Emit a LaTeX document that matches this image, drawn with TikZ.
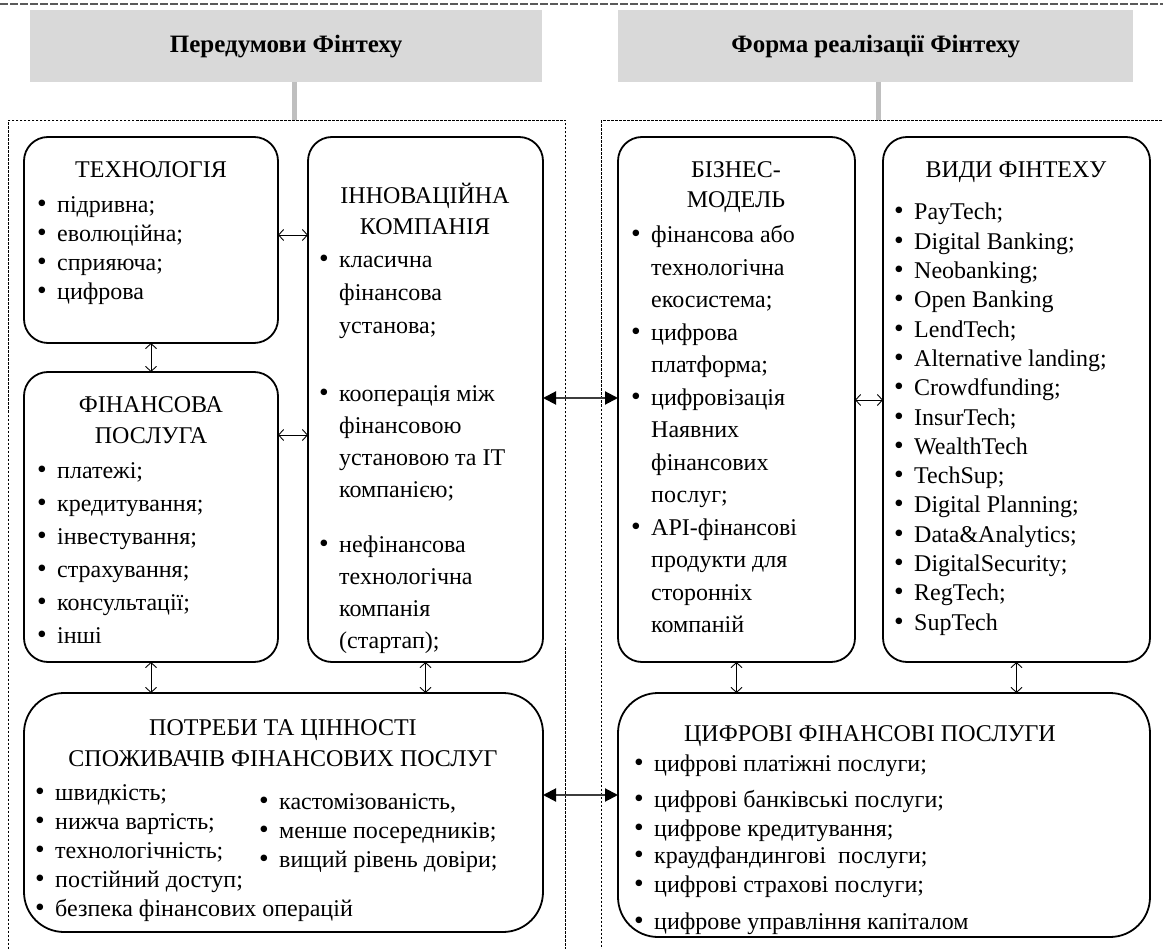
\documentclass[tikz,border=0pt]{standalone}
\usepackage{fontspec}
\setmainfont{Liberation Serif}
\usetikzlibrary{arrows.meta,calc}
\definecolor{hdrgray}{RGB}{217,217,217}
\definecolor{conngray}{RGB}{191,191,191}
\definecolor{topline}{RGB}{90,90,90}
\definecolor{arrgray}{RGB}{60,60,60}
\newcommand\bu{\makebox[21pt][l]{\kern1pt\scalebox{1.15}{•}}}
\newcommand\ind{\hspace*{21pt}}
\newcommand\rows[1]{\begin{tabular}[t]{@{}l@{}}#1\end{tabular}}
\begin{document}
\begin{tikzpicture}[x=1pt,y=-1pt,
  box/.style={draw, line width=1.8pt, rounded corners=24pt, inner sep=0pt, outer sep=0pt, anchor=north west},
  bigbox/.style={box, rounded corners=40pt},
  hdr/.style={fill=hdrgray, inner sep=0pt, anchor=north west, font=\fontsize{25}{30}\selectfont\bfseries},
  frm/.style={draw, line width=1pt, dash pattern=on 2.5pt off 1.5pt, inner sep=0pt, anchor=north west},
  ttl/.style={anchor=base, inner sep=0pt, font=\fontsize{24}{30}\selectfont},
  lst/.style={anchor=base west, inner sep=0pt, font=\fontsize{24}{#1}\selectfont},
  lst/.default=33,
  dbl/.style={line width=0.9pt, {Straight Barb[length=5pt,width=11pt]}-{Straight Barb[length=5pt,width=11pt]}},
  bigarr/.style={arrgray, line width=2pt, {Triangle[length=13pt,width=13pt,fill=black,color=black]}-{Triangle[length=13pt,width=13pt,fill=black,color=black]}}
]
\useasboundingbox (0,0) rectangle (1163,949);
\clip (0,0) rectangle (1163,949);

% top line
\coordinate (tl1) at (0,4);
\coordinate (tl2) at (1163,4);
\draw[topline, line width=1.5pt, dash pattern=on 8pt off 2pt] (tl1) -- (tl2);

% headers
\node[hdr, minimum width=512, minimum height=72] (h1) at (30,10) {Передумови Фінтеху};
\node[hdr, minimum width=515, minimum height=72] (h2) at (618,10) {Форма реалізації Фінтеху};

% frames
\node[frm, minimum width=557, minimum height=860] (f1) at (8,120) {};
\node[frm, minimum width=600, minimum height=860] (f2) at (601,120) {};

\draw[conngray, line width=5pt] ([xshift=8pt]h1.south) -- ([xshift=8pt]h1.south |- f1.north);
\draw[conngray, line width=5pt] ([xshift=3pt]h2.south) -- ([xshift=3pt]h2.south |- f2.north);

% boxes
\node[box, minimum width=254, minimum height=206] (tech) at (24,137) {};
\node[box, minimum width=254, minimum height=290] (fin) at (24,372) {};
\node[box, minimum width=235, minimum height=525] (innov) at (308,137) {};
\node[bigbox, minimum width=519, minimum height=239] (pot) at (24,693) {};
\node[box, minimum width=237, minimum height=525] (bus) at (618,137) {};
\node[box, minimum width=267, minimum height=525] (vyd) at (883,137) {};
\node[bigbox, minimum width=532, minimum height=244] (cyf) at (618,693) {};

% arrows
\draw[dbl] (tech.south) -- (fin.north);
\draw[dbl] (fin.south) -- (fin.south |- pot.north);
\draw[dbl] (innov.south) -- (innov.south |- pot.north);
\draw[dbl] (bus.south) -- (bus.south |- cyf.north);
\draw[dbl] (vyd.south) -- (vyd.south |- cyf.north);
\coordinate (y1) at (0,235);
\coordinate (y2) at (0,435);
\coordinate (y3) at (0,400);
\coordinate (y4) at (0,398);
\coordinate (y5) at (0,795);
\draw[dbl] (tech.east |- y1) -- (innov.west |- y1);
\draw[dbl] (fin.east |- y2) -- (innov.west |- y2);
\draw[dbl] (bus.east |- y3) -- (vyd.west |- y3);
\draw[bigarr] (innov.east |- y4) -- (bus.west |- y4);
\draw[bigarr] (pot.east |- y5) -- (cyf.west |- y5);

% TECH
\node[ttl] (t1) at (151,178) {ТЕХНОЛОГІЯ};
\node[lst=29] (l1) at (36,213) {\rows{\bu підривна;\\ \bu еволюційна;\\ \bu сприяюча;\\ \bu цифрова}};

% FIN
\node[ttl] (t2a) at (151,413) {ФІНАНСОВА};
\node[ttl] (t2b) at (151,444) {ПОСЛУГА};
\node[lst=33] (l2) at (36,479) {\rows{\bu платежі;\\ \bu кредитування;\\ \bu інвестування;\\ \bu страхування;\\ \bu консультації;\\ \bu інші}};

% INNOV
\node[ttl] (t3a) at (425,204) {ІННОВАЦІЙНА};
\node[ttl] (t3b) at (425,235) {КОМПАНІЯ};
\node[lst=33] (l3a) at (318,268) {\rows{\bu класична\\ \ind фінансова\\ \ind установа;}};
\node[lst=32] (l3b) at (318,402) {\rows{\bu кооперація між\\ \ind фінансовою\\ \ind установою та IT\\ \ind компанією;}};
\node[lst=32] (l3c) at (318,553) {\rows{\bu нефінансова\\ \ind технологічна\\ \ind компанія\\ \ind (стартап);}};

% POTREBI
\node[ttl] (t4a) at (283,735) {ПОТРЕБИ ТА ЦІННОСТІ};
\node[ttl] (t4b) at (283,766) {СПОЖИВАЧІВ ФІНАНСОВИХ ПОСЛУГ};
\node[lst=29] (l4a) at (34,800) {\rows{\bu швидкість;\\ \bu нижча вартість;\\ \bu технологічність;\\ \bu постійний доступ;\\ \bu безпека фінансових операцій}};
\node[lst=29] (l4b) at (258,809) {\rows{\bu кастомізованість,\\ \bu менше посередників;\\ \bu вищий рівень довіри;}};

% BUSINESS
\node[ttl] (t5a) at (736,178) {БІЗНЕС-};
\node[ttl] (t5b) at (736,208) {МОДЕЛЬ};
\node[lst=32.5] (l5) at (630,243) {\rows{\bu фінансова або\\ \ind технологічна\\ \ind екосистема;\\ \bu цифрова\\ \ind платформа;\\ \bu цифровізація\\ \ind Наявних\\ \ind фінансових\\ \ind послуг;\\ \bu API-фінансові\\ \ind продукти для\\ \ind сторонніх\\ \ind компаній}};

% VYDY
\node[ttl] (t6) at (1016,178) {ВИДИ ФІНТЕХУ};
\node[lst=29.3] (l6) at (893,220) {\rows{\bu PayTech;\\ \bu Digital Banking;\\ \bu Neobanking;\\ \bu Open Banking\\ \bu LendTech;\\ \bu Alternative landing;\\ \bu Crowdfunding;\\ \bu InsurTech;\\ \bu WealthTech\\ \bu TechSup;\\ \bu Digital Planning;\\ \bu Data\&Analytics;\\ \bu DigitalSecurity;\\ \bu RegTech;\\ \bu SupTech}};

% CYF
\node[ttl] (t7) at (870,741) {ЦИФРОВІ ФІНАНСОВІ ПОСЛУГИ};
\node[lst] (c1) at (633,771) {\bu цифрові платіжні послуги;};
\node[lst] (c2) at (633,807) {\bu цифрові банківські послуги;};
\node[lst] (c3) at (633,836) {\bu цифрове кредитування;};
\node[lst] (c4) at (633,863) {\bu краудфандингові\ \ послуги;};
\node[lst] (c5) at (633,892) {\bu цифрові страхові послуги;};
\node[lst] (c6) at (633,929) {\bu цифрове управління капіталом};
\end{tikzpicture}
\end{document}
